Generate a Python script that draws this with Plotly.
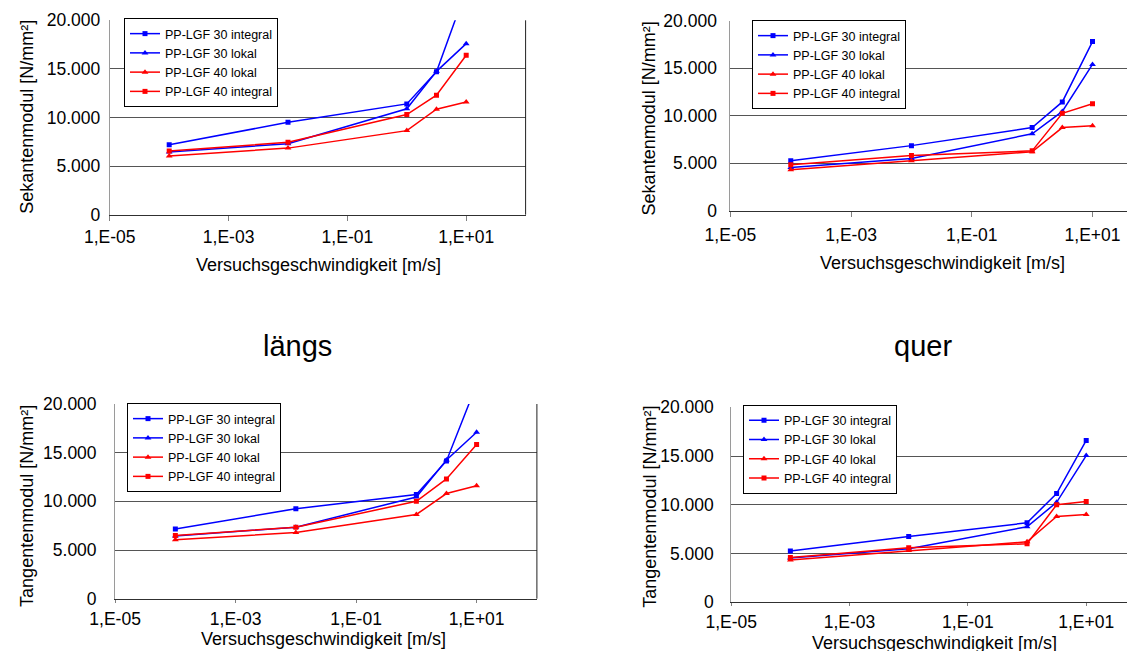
import plotly.graph_objects as go

# ---------------- data ----------------
speed = [1e-4, 1e-2, 1.0, 3.16, 10.0]
series_names = ["PP-LGF 30 integral", "PP-LGF 30 lokal", "PP-LGF 40 lokal", "PP-LGF 40 integral"]

sek_laengs_30_integral = [7200, 9500, 11400, 14700, 23150]
sek_laengs_30_lokal = [6450, 7300, 10900, 14750, 17600]
sek_laengs_40_lokal = [6050, 6850, 8650, 10850, 11600]
sek_laengs_40_integral = [6550, 7450, 10300, 12300, 16400]

sek_quer_30_integral = [5250, 6850, 8750, 11450, 17800]
sek_quer_30_lokal = [4550, 5500, 8100, 10450, 15400]
sek_quer_40_lokal = [4300, 5250, 6200, 8750, 8950]
sek_quer_40_integral = [4850, 5800, 6300, 10250, 11250]

tan_laengs_30_integral = [7150, 9250, 10700, 14150, 22000]
tan_laengs_30_lokal = [6450, 7350, 10450, 14250, 17100]
tan_laengs_40_lokal = [6050, 6800, 8650, 10800, 11600]
tan_laengs_40_integral = [6500, 7350, 10000, 12300, 15850]

tan_quer_30_integral = [5250, 6750, 8150, 11150, 16600]
tan_quer_30_lokal = [4550, 5500, 7750, 10250, 15050]
tan_quer_40_lokal = [4350, 5300, 6200, 8800, 9000]
tan_quer_40_integral = [4600, 5600, 6000, 10000, 10350]

x_tickvals = [1e-5, 1e-3, 1e-1, 1e1]
x_ticktext = ["1,E-05", "1,E-03", "1,E-01", "1,E+01"]
y_tickvals = [0, 5000, 10000, 15000, 20000]

x_title = "Versuchsgeschwindigkeit [m/s]"
y_titles = ["Sekantenmodul [N/mm²]", "Sekantenmodul [N/mm²]",
            "Tangentenmodul [N/mm²]", "Tangentenmodul [N/mm²]"]
section_titles = ["längs", "quer"]

# ---------------- styling ----------------
W, H = 1135, 651
FONT = "Liberation Sans, Arial, sans-serif"
colors = ["#0000FF", "#0000FF", "#FF0000", "#FF0000"]
symbols = ["square", "triangle-up", "triangle-up", "square"]
msizes = [5, 6, 6, 5]


def fx(px):
    return px / W


def fy(py):
    return 1 - py / H


panels = [
    dict(data=[sek_laengs_30_integral, sek_laengs_30_lokal, sek_laengs_40_lokal, sek_laengs_40_integral],
         left=101.8, per_dec=59.4, right=517.6, top=12.3, bottom=206.7, lab_gap=5,
         xlab_gap=1, xticklen=5,
         legend=(116, 10), ytitle=(19.6, 109.2), xtitle=(310, 256.5), border=True),
    dict(data=[sek_quer_30_integral, sek_quer_30_lokal, sek_quer_40_lokal, sek_quer_40_integral],
         left=722.4, per_dec=60.35, right=1135, top=12.7, bottom=202.7, lab_gap=9,
         xlab_gap=3, xticklen=5,
         legend=(744, 12), ytitle=(641.4, 110), xtitle=(934.8, 255), border=False),
    dict(data=[tan_laengs_30_integral, tan_laengs_30_lokal, tan_laengs_40_lokal, tan_laengs_40_integral],
         left=107.1, per_dec=60.25, right=528.9, top=396, bottom=590.7, lab_gap=14,
         xlab_gap=1, xticklen=3,
         legend=(119, 395), ytitle=(19.6, 498.3), xtitle=(315.7, 631), border=True),
    dict(data=[tan_quer_30_integral, tan_quer_30_lokal, tan_quer_40_lokal, tan_quer_40_integral],
         left=723.2, per_dec=59.17, right=1135, top=399.3, bottom=594.3, lab_gap=13,
         xlab_gap=1, xticklen=3,
         legend=(735, 396.5), ytitle=(642.5, 499.2), xtitle=(926.9, 634.5), border=False),
]

fig = go.Figure()
annotations = []
shapes = []
layout_extra = {}

for i, p in enumerate(panels):
    n = i + 1
    xa = "x" if n == 1 else f"x{n}"
    ya = "y" if n == 1 else f"y{n}"
    lg = "legend" if n == 1 else f"legend{n}"
    for k, vals in enumerate(p["data"]):
        fig.add_trace(go.Scatter(
            x=speed, y=vals, mode="lines+markers", name=series_names[k],
            line=dict(color=colors[k], width=1.5),
            marker=dict(symbol=symbols[k], size=msizes[k], color=colors[k]),
            xaxis=xa, yaxis=ya, legend=lg, showlegend=True,
        ))
    x_end = -5 + (p["right"] - p["left"]) / p["per_dec"]
    layout_extra["xaxis" if n == 1 else f"xaxis{n}"] = dict(
        type="log", range=[-5, x_end], domain=[fx(p["left"]), fx(p["right"])],
        anchor=ya, tickvals=x_tickvals, ticktext=x_ticktext, automargin=False,
        showgrid=False, zeroline=False, showline=True, linecolor="#303030", linewidth=1,
        ticks="outside", ticklen=p["xticklen"], tickcolor="#808080", tickwidth=1,
        tickfont=dict(family=FONT, size=17.5, color="#000000"), ticklabelstandoff=p["xlab_gap"],
    )
    layout_extra["yaxis" if n == 1 else f"yaxis{n}"] = dict(
        range=[0, 20000], domain=[fy(p["bottom"]), fy(p["top"])], anchor=xa,
        tickvals=y_tickvals, tickformat=",d", automargin=False,
        showgrid=True, gridcolor="#555555", gridwidth=1, zeroline=False,
        showline=True, linecolor="#9a9a9a", linewidth=1, ticks="",
        tickfont=dict(family=FONT, size=17.5, color="#000000"), ticklabelstandoff=p["lab_gap"],
    )
    layout_extra[lg] = dict(
        x=fx(p["legend"][0]), y=fy(p["legend"][1]), xanchor="left", yanchor="top",
        bgcolor="#FFFFFF", bordercolor="#000000", borderwidth=1,
        font=dict(family=FONT, size=12.5, color="#000000"), tracegroupgap=0, itemwidth=30,
    )
    annotations.append(dict(text=y_titles[i], x=fx(p["ytitle"][0]), y=fy(p["ytitle"][1]),
                            xref="paper", yref="paper", showarrow=False, textangle=-90,
                            xanchor="center", yanchor="middle",
                            font=dict(family=FONT, size=18, color="#000000")))
    annotations.append(dict(text=x_title, x=fx(p["xtitle"][0]), y=fy(p["xtitle"][1]),
                            xref="paper", yref="paper", showarrow=False,
                            xanchor="center", yanchor="middle",
                            font=dict(family=FONT, size=18, color="#000000")))
    if p["border"]:
        shapes.append(dict(type="line", xref=f"{xa} domain", yref=f"{ya} domain",
                           x0=1, x1=1, y0=0, y1=1, line=dict(color="#202020", width=1)))

annotations.append(dict(text=section_titles[0], x=fx(289), y=fy(338), xref="paper", yref="paper",
                        showarrow=False, xanchor="center", yanchor="middle",
                        font=dict(family=FONT, size=29, color="#000000")))
annotations.append(dict(text=section_titles[1], x=fx(915), y=fy(338), xref="paper", yref="paper",
                        showarrow=False, xanchor="center", yanchor="middle",
                        font=dict(family=FONT, size=29, color="#000000")))

fig.update_layout(
    width=W, height=H, margin=dict(l=0, r=0, t=0, b=0, pad=0, autoexpand=False),
    paper_bgcolor="#FFFFFF", plot_bgcolor="#FFFFFF",
    separators=",.", font=dict(family=FONT, color="#000000"),
    annotations=annotations, shapes=shapes, **layout_extra,
)

fig.write_html("out.html")
